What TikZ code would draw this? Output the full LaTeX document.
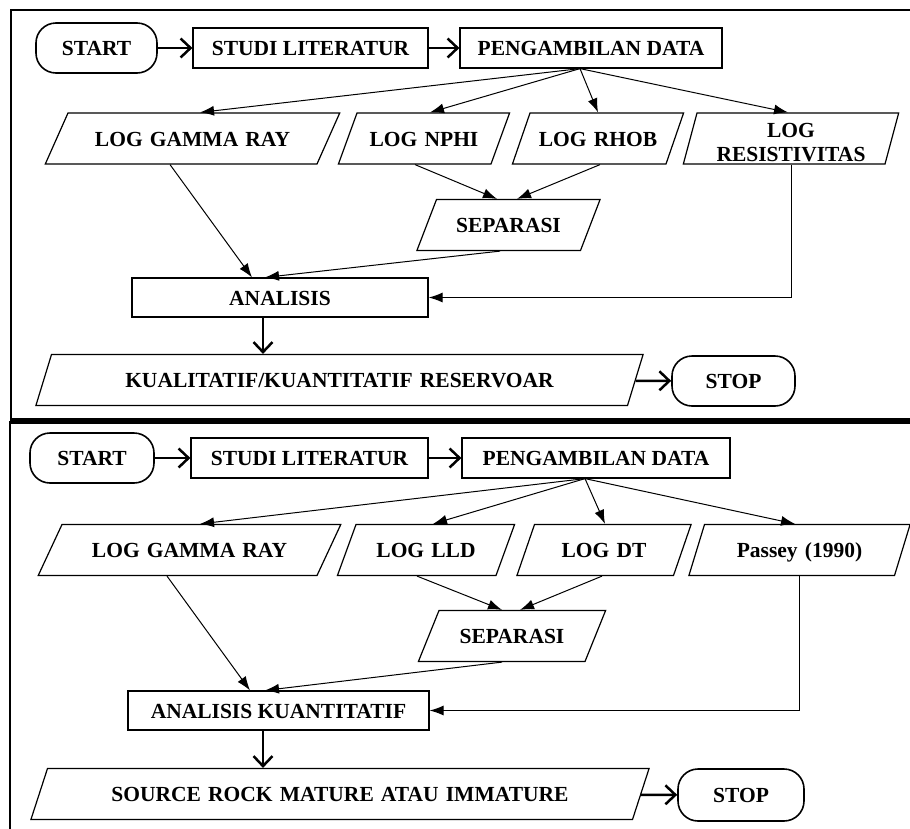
\documentclass[tikz,border=0pt]{standalone}
\usepackage{fontspec}
\setmainfont{Liberation Serif}
\usetikzlibrary{shapes.geometric, arrows.meta}

\begin{document}
\begin{tikzpicture}[x=1pt, y=-1pt,
    every node/.style={font=\fontsize{21.5}{24}\selectfont\bfseries, text height=15pt, text depth=0pt},
    term/.style={draw, line width=1.6pt, rounded corners=20pt, minimum height=50pt, minimum width=#1, inner sep=0pt},
    proc/.style={draw, line width=1.2pt, minimum height=40pt, minimum width=#1, inner sep=0pt},
    data/.style n args={3}{trapezium, draw, line width=1.2pt, trapezium left angle=#1, trapezium right angle=#2,
        text width=#3, align=center, inner xsep=0pt, inner ysep=18pt},
    link/.style={line width=1pt, -{Latex[length=14pt, width=10pt]}},
    flow/.style={line width=2.5pt, -{Straight Barb[length=10pt, width=19pt]}}]

    \useasboundingbox (0,0) rectangle (910,828);

    % Panel frames
    \draw[line width=2.2pt] (915,10) -- (11,10) -- (11,419.5) -- (915,419.5);
    \draw[line width=2.6pt] (915,422.5) -- (10,422.5) -- (10,835);

    % ---------- Upper chart ----------
    \node[term=121pt] (st1) at (96.5,48) {START};
    \node[proc=235pt] (sl1) at (310.5,48) {STUDI LITERATUR};
    \node[proc=262pt] (pd1) at (591,48) {PENGAMBILAN DATA};

    % Log inputs
    \node[data={66}{114}{249pt}] (gr1) at (192.5,138.5) {LOG GAMMA RAY};
    \node[data={70}{110}{134pt}] (np1) at (424,138.5) {LOG NPHI};
    \node[data={71}{109}{136pt}] (rh1) at (598,138.5) {LOG RHOB};
    \node[data={75}{105}{188pt}, text height=20pt, text depth=23pt, inner ysep=4pt] (rs1) at (791,138.5) {LOG\\RESISTIVITAS};

    \node[data={69}{111}{144pt}] (se1) at (508.5,225) {SEPARASI};
    \node[proc=296pt, minimum height=39pt] (an1) at (280,297.5) {ANALISIS};
    \node[data={73}{107}{576pt}] (ku1) at (339.5,380) {KUALITATIF/KUANTITATIF RESERVOAR};
    \node[term=123pt] (stp1) at (733.5,381) {STOP};

    % Connectors
    \draw[flow] (st1) -- (sl1);
    \draw[flow] (sl1) -- (pd1);
    \foreach \n/\dx in {gr1/7.5, np1/6, rh1/0, rs1/-3}
        \draw[link] ([xshift=-11pt]pd1.south) -- ([xshift=\dx pt]\n.north);
    \draw[link] ([xshift=-9pt]np1.south) -- ([xshift=-11.5pt]se1.north);
    \draw[link] ([xshift=2pt]rh1.south) -- ([xshift=8.5pt]se1.north);
    \draw[link] ([xshift=-22.5pt]gr1.south) -- ([xshift=-28pt]an1.north);
    \draw[link] ([xshift=-8.5pt]se1.south) -- ([xshift=-15pt]an1.north);
    \draw[link] (rs1.south) |- (an1.east);
    \coordinate (dn1) at ([xshift=-17pt]an1.south);
    \draw[flow] (dn1) -- (dn1 |- ku1.north);
    \draw[flow] (ku1) -- (stp1);

    % ---------- Lower chart ----------
    \node[term=124pt] (st2) at (92,458) {START};
    \node[proc=237pt] (sl2) at (309.5,458) {STUDI LITERATUR};
    \node[proc=268pt] (pd2) at (596,458) {PENGAMBILAN DATA};

    % Log inputs
    \node[data={65}{115}{255pt}] (gr2) at (189.5,550) {LOG GAMMA RAY};
    \node[data={70}{110}{140pt}] (ll2) at (426,550) {LOG LLD};
    \node[data={71}{109}{139pt}] (dt2) at (604,550) {LOG DT};
    \node[data={73}{107}{190pt}] (ps2) at (799.5,550) {Passey (1990)};

    \node[data={68}{112}{146pt}] (se2) at (512,636) {SEPARASI};
    \node[proc=301pt, minimum height=39pt] (an2) at (278.5,710.5) {ANALISIS KUANTITATIF};
    \node[data={72}{108}{585pt}] (sr2) at (340,794) {SOURCE ROCK MATURE ATAU IMMATURE};
    \node[term=126pt, minimum height=52pt] (stp2) at (741,795) {STOP};

    % Connectors
    \draw[flow] (st2) -- (sl2);
    \draw[flow] (sl2) -- (pd2);
    \foreach \n/\dx in {gr2/10.5, ll2/7, dt2/1, ps2/-4.5}
        \draw[link] ([xshift=-11pt]pd2.south) -- ([xshift=\dx pt]\n.north);
    \draw[link] ([xshift=-9pt]ll2.south) -- ([xshift=-10pt]se2.north);
    \draw[link] ([xshift=-2pt]dt2.south) -- ([xshift=8pt]se2.north);
    \draw[link] ([xshift=-22.5pt]gr2.south) -- ([xshift=-28.5pt]an2.north);
    \draw[link] ([xshift=-10pt]se2.south) -- ([xshift=-13.5pt]an2.north);
    \draw[link] (ps2.south) |- (an2.east);
    \coordinate (dn2) at ([xshift=-15.5pt]an2.south);
    \draw[flow] (dn2) -- (dn2 |- sr2.north);
    \draw[flow] (sr2) -- (stp2);
\end{tikzpicture}
\end{document}
